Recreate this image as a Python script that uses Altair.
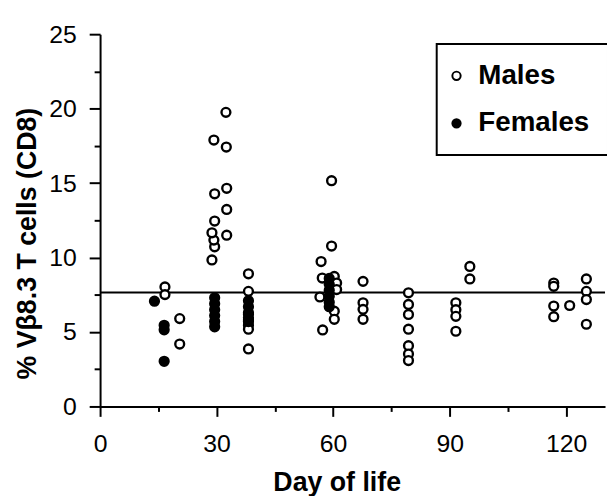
import altair as alt
import pandas as pd

# ---- data ----
male_day = [16.7, 16.7,
            20.5, 20.5,
            28.8, 29.5, 29.3, 28.8, 29.5, 29.5, 29.3,
            32.4, 32.5, 32.6, 32.6, 32.6,
            38.2, 38.2, 38.2, 38.2, 38.2, 38.2, 38.2,
            59.6, 59.6, 56.9, 57.2, 60.3, 60.9, 60.9, 56.6, 60.3, 60.3, 57.3,
            67.7, 67.7, 67.7, 67.7,
            79.4, 79.4, 79.4, 79.4, 79.4, 79.4, 79.4,
            91.6, 91.6, 91.6, 91.6,
            95.2, 95.2,
            116.8, 116.8, 116.8, 116.8,
            120.9,
            125.2, 125.2, 125.2, 125.2]
male_val = [8.03, 7.51,
            5.9, 4.19,
            9.84, 10.72, 11.17, 11.66, 12.45, 14.28, 17.89,
            19.75, 17.42, 14.65, 13.23, 11.5,
            8.91, 7.73, 6.2, 5.8, 5.45, 5.19, 3.86,
            15.16, 10.77, 9.73, 8.62, 8.73, 8.29, 7.85, 7.35, 6.4, 5.85, 5.14,
            8.4, 6.96, 6.52, 5.85,
            7.63, 6.85, 6.18, 5.19, 4.08, 3.52, 3.08,
            6.96, 6.5, 6.05, 5.05,
            9.4, 8.56,
            8.29, 8.07, 6.74, 6.03,
            6.78,
            8.56, 7.73, 7.18, 5.52]

female_day = [14.0,
              16.5, 16.5, 16.5,
              29.5, 29.5, 29.5, 29.5, 29.5, 29.5,
              38.2, 38.2, 38.2, 38.2, 38.2,
              59.0, 59.0, 59.0, 59.0, 59.0, 59.0]
female_val = [7.07,
              5.45, 5.15, 3.03,
              7.3, 6.9, 6.5, 6.1, 5.7, 5.35,
              7.1, 6.7, 6.3, 5.95, 5.7,
              8.6, 8.2, 7.8, 7.4, 7.0, 6.7]

reference_level = [7.65]

x_ticks = [0, 15, 30, 45, 60, 75, 90, 105, 120]
y_ticks = [0, 2.5, 5, 7.5, 10, 12.5, 15, 17.5, 20, 22.5, 25]
groups = ["Males", "Females"]

df = pd.DataFrame({
    "day": male_day + female_day,
    "value": male_val + female_val,
    "sex": [groups[0]] * len(male_day) + [groups[1]] * len(female_day),
})
ref_df = pd.DataFrame({"value": reference_level})

FONT = "Liberation Sans"

x_axis = alt.Axis(
    values=x_ticks, format="d",
    labelExpr="datum.value % 30 === 0 ? datum.label : ''",
    tickSize={"condition": {"test": "datum.value % 30 === 0", "value": 10}, "value": 5},
    title="Day of life", titleFont=FONT, titleFontSize=27, titleFontWeight="bold",
    titleColor="black", titleX=239, titleY=85, titleBaseline="alphabetic",
    labelFont=FONT, labelFontSize=25, labelColor="black", labelPadding=16,
    labelOverlap=False, labelFlush=False,
    domainColor="black", domainWidth=2, tickColor="black", tickWidth=2, grid=False,
)
y_axis = alt.Axis(
    values=y_ticks, format="d",
    labelExpr="datum.value % 5 === 0 ? datum.label : ''",
    tickSize={"condition": {"test": "datum.value % 5 === 0", "value": 11}, "value": 6},
    title="% Vβ8.3 T cells (CD8)", titleFont=FONT, titleFontSize=27, titleFontWeight="bold",
    titleColor="black", titleX=-59, titleY=211,
    labelFont=FONT, labelFontSize=25, labelColor="black", labelPadding=13,
    labelOverlap=False, labelFlush=False,
    domainColor="black", domainWidth=2, tickColor="black", tickWidth=2, grid=False,
)

x_scale = alt.Scale(domain=[0, 130], nice=False, zero=False)
y_scale = alt.Scale(domain=[0, 25], nice=False)

rule = alt.Chart(ref_df).mark_rule(color="black", strokeWidth=2).encode(
    y=alt.Y("value:Q", scale=y_scale, axis=y_axis),
)

points = alt.Chart(df).mark_point(
    shape="circle", filled=True, size=80, strokeWidth=2.4, stroke="black", opacity=1
).encode(
    x=alt.X("day:Q", scale=x_scale, axis=x_axis),
    y=alt.Y("value:Q", scale=y_scale, axis=y_axis),
    fill=alt.Fill("sex:N", scale=alt.Scale(domain=groups, range=["white", "black"]),
                  legend=alt.Legend(
                      title=None, orient="none", legendX=340, legendY=10,
                      strokeColor="black", padding=18,
                      labelFont=FONT, labelFontSize=28, labelFontWeight="bold",
                      labelColor="black", labelOffset=8, rowPadding=20,
                      symbolType="circle", symbolSize=70, symbolOffset=-12,
                      symbolStrokeColor="black", symbolStrokeWidth=2,
                  )),
)

chart = alt.layer(rule, points).properties(
    width=510, height=376,
    autosize=alt.AutoSizeParams(type="none"),
    padding={"left": 93, "top": 24, "right": 2, "bottom": 88},
).configure_view(stroke=None).configure_legend(strokeWidth=2)

chart.save("out.html", embed_options={"renderer": "svg", "actions": False})
